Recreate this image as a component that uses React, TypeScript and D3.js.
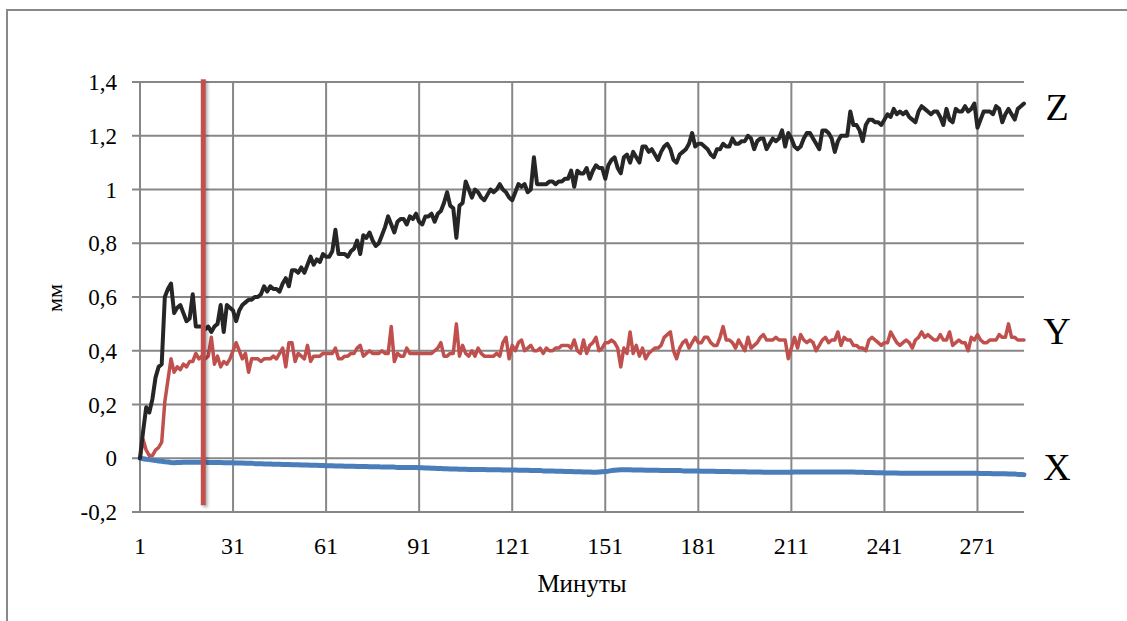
import React from 'react';
import * as d3 from 'd3';

// Minutes 1..286, one reading per minute (mm)
const zValues = [
  0.00, 0.10, 0.19, 0.17, 0.22, 0.30, 0.34, 0.35, 0.60, 0.63,
  0.65, 0.54, 0.56, 0.57, 0.54, 0.51, 0.52, 0.61, 0.49, 0.49,
  0.49, 0.48, 0.49, 0.47, 0.49, 0.50, 0.57, 0.47, 0.57, 0.56,
  0.55, 0.51, 0.55, 0.57, 0.58, 0.59, 0.59, 0.60, 0.60, 0.61,
  0.64, 0.62, 0.64, 0.63, 0.63, 0.62, 0.65, 0.67, 0.64, 0.70,
  0.70, 0.69, 0.71, 0.69, 0.72, 0.75, 0.72, 0.74, 0.73, 0.76,
  0.75, 0.75, 0.77, 0.85, 0.76, 0.76, 0.76, 0.75, 0.77, 0.78,
  0.81, 0.76, 0.83, 0.82, 0.84, 0.81, 0.79, 0.80, 0.83, 0.86,
  0.90, 0.87, 0.84, 0.88, 0.89, 0.89, 0.87, 0.90, 0.89, 0.91,
  0.88, 0.87, 0.90, 0.90, 0.91, 0.88, 0.91, 0.92, 0.95, 0.99,
  0.94, 0.93, 0.82, 0.94, 0.95, 1.03, 1.00, 0.97, 1.00, 0.99,
  0.97, 0.96, 0.98, 1.00, 0.99, 1.00, 1.02, 1.00, 0.99, 0.97,
  0.96, 0.99, 1.02, 1.01, 1.02, 0.99, 1.00, 1.12, 1.02, 1.02,
  1.02, 1.02, 1.03, 1.03, 1.02, 1.03, 1.03, 1.04, 1.04, 1.07,
  1.01, 1.07, 1.06, 1.06, 1.08, 1.04, 1.07, 1.09, 1.08, 1.08,
  1.04, 1.09, 1.11, 1.12, 1.08, 1.06, 1.12, 1.13, 1.10, 1.14,
  1.12, 1.10, 1.16, 1.16, 1.14, 1.15, 1.13, 1.11, 1.14, 1.16,
  1.17, 1.15, 1.11, 1.10, 1.13, 1.14, 1.15, 1.17, 1.21, 1.16,
  1.17, 1.17, 1.16, 1.15, 1.13, 1.12, 1.15, 1.15, 1.17, 1.16,
  1.16, 1.19, 1.17, 1.17, 1.18, 1.18, 1.20, 1.19, 1.15, 1.18,
  1.19, 1.19, 1.15, 1.17, 1.19, 1.18, 1.19, 1.22, 1.16, 1.21,
  1.19, 1.16, 1.15, 1.16, 1.19, 1.21, 1.21, 1.19, 1.17, 1.15,
  1.22, 1.22, 1.21, 1.19, 1.14, 1.18, 1.20, 1.20, 1.20, 1.29,
  1.24, 1.24, 1.22, 1.18, 1.24, 1.26, 1.26, 1.25, 1.25, 1.24,
  1.26, 1.28, 1.27, 1.30, 1.28, 1.29, 1.28, 1.29, 1.27, 1.26,
  1.25, 1.29, 1.31, 1.30, 1.29, 1.28, 1.29, 1.29, 1.27, 1.24,
  1.30, 1.26, 1.25, 1.30, 1.29, 1.29, 1.31, 1.29, 1.30, 1.32,
  1.23, 1.26, 1.29, 1.29, 1.29, 1.28, 1.31, 1.30, 1.25, 1.28,
  1.30, 1.28, 1.26, 1.30, 1.31, 1.32,
];

const yValues = [
  0.00, 0.07, 0.03, 0.01, 0.01, 0.03, 0.04, 0.06, 0.21, 0.29,
  0.37, 0.32, 0.34, 0.33, 0.35, 0.34, 0.36, 0.36, 0.39, 0.37,
  0.38, 0.37, 0.38, 0.45, 0.35, 0.38, 0.34, 0.36, 0.35, 0.37,
  0.40, 0.43, 0.40, 0.37, 0.39, 0.32, 0.37, 0.37, 0.37, 0.36,
  0.37, 0.37, 0.37, 0.38, 0.37, 0.39, 0.41, 0.34, 0.43, 0.43,
  0.36, 0.39, 0.38, 0.37, 0.42, 0.36, 0.38, 0.38, 0.38, 0.39,
  0.39, 0.39, 0.39, 0.41, 0.37, 0.37, 0.38, 0.38, 0.39, 0.39,
  0.41, 0.42, 0.38, 0.39, 0.40, 0.39, 0.39, 0.39, 0.40, 0.39,
  0.39, 0.49, 0.36, 0.39, 0.38, 0.38, 0.41, 0.39, 0.39, 0.39,
  0.39, 0.39, 0.39, 0.39, 0.39, 0.40, 0.41, 0.43, 0.38, 0.38,
  0.39, 0.39, 0.50, 0.38, 0.42, 0.39, 0.38, 0.40, 0.38, 0.41,
  0.39, 0.38, 0.38, 0.38, 0.38, 0.39, 0.38, 0.43, 0.45, 0.37,
  0.42, 0.40, 0.43, 0.44, 0.40, 0.41, 0.42, 0.40, 0.40, 0.41,
  0.39, 0.41, 0.40, 0.40, 0.41, 0.41, 0.42, 0.42, 0.42, 0.41,
  0.44, 0.40, 0.39, 0.44, 0.39, 0.42, 0.43, 0.45, 0.40, 0.41,
  0.43, 0.43, 0.44, 0.43, 0.41, 0.34, 0.41, 0.39, 0.47, 0.39,
  0.42, 0.38, 0.41, 0.37, 0.39, 0.40, 0.41, 0.41, 0.42, 0.45,
  0.46, 0.47, 0.40, 0.37, 0.41, 0.43, 0.44, 0.41, 0.43, 0.45,
  0.43, 0.43, 0.45, 0.45, 0.43, 0.42, 0.42, 0.45, 0.49, 0.44,
  0.44, 0.43, 0.41, 0.44, 0.42, 0.40, 0.45, 0.41, 0.42, 0.43,
  0.45, 0.46, 0.44, 0.44, 0.44, 0.45, 0.44, 0.44, 0.44, 0.37,
  0.41, 0.45, 0.41, 0.46, 0.44, 0.43, 0.44, 0.43, 0.40, 0.42,
  0.44, 0.45, 0.43, 0.44, 0.44, 0.47, 0.42, 0.45, 0.44, 0.44,
  0.42, 0.42, 0.41, 0.41, 0.40, 0.44, 0.45, 0.44, 0.43, 0.42,
  0.43, 0.43, 0.47, 0.45, 0.43, 0.42, 0.43, 0.44, 0.43, 0.41,
  0.44, 0.45, 0.47, 0.45, 0.46, 0.45, 0.44, 0.44, 0.46, 0.44,
  0.44, 0.47, 0.42, 0.43, 0.44, 0.43, 0.43, 0.40, 0.45, 0.44,
  0.46, 0.44, 0.43, 0.43, 0.44, 0.44, 0.44, 0.46, 0.45, 0.45,
  0.50, 0.45, 0.45, 0.44, 0.44, 0.44,
];

const xValues = [
  0.000, -0.002, -0.004, -0.005, -0.007, -0.008, -0.010, -0.011, -0.013, -0.014,
  -0.016, -0.017, -0.016, -0.016, -0.015, -0.015, -0.015, -0.015, -0.015, -0.015,
  -0.015, -0.015, -0.016, -0.016, -0.016, -0.016, -0.016, -0.017, -0.017, -0.017,
  -0.017, -0.018, -0.018, -0.018, -0.019, -0.019, -0.019, -0.020, -0.020, -0.020,
  -0.021, -0.021, -0.021, -0.022, -0.022, -0.022, -0.023, -0.023, -0.023, -0.024,
  -0.024, -0.024, -0.025, -0.025, -0.025, -0.026, -0.026, -0.026, -0.027, -0.027,
  -0.028, -0.028, -0.028, -0.029, -0.029, -0.029, -0.030, -0.030, -0.030, -0.030,
  -0.031, -0.031, -0.031, -0.031, -0.032, -0.032, -0.032, -0.032, -0.033, -0.033,
  -0.033, -0.033, -0.033, -0.034, -0.034, -0.034, -0.034, -0.034, -0.034, -0.034,
  -0.035, -0.035, -0.036, -0.036, -0.037, -0.037, -0.038, -0.038, -0.039, -0.039,
  -0.040, -0.040, -0.040, -0.041, -0.041, -0.041, -0.042, -0.042, -0.042, -0.042,
  -0.042, -0.042, -0.043, -0.043, -0.043, -0.043, -0.043, -0.044, -0.044, -0.044,
  -0.044, -0.044, -0.045, -0.045, -0.045, -0.045, -0.046, -0.046, -0.046, -0.046,
  -0.047, -0.047, -0.047, -0.047, -0.048, -0.048, -0.048, -0.049, -0.049, -0.049,
  -0.050, -0.050, -0.050, -0.051, -0.051, -0.051, -0.052, -0.052, -0.051, -0.050,
  -0.049, -0.048, -0.046, -0.045, -0.044, -0.043, -0.043, -0.043, -0.043, -0.044,
  -0.044, -0.044, -0.044, -0.045, -0.045, -0.045, -0.045, -0.045, -0.046, -0.046,
  -0.046, -0.046, -0.046, -0.046, -0.046, -0.047, -0.047, -0.047, -0.047, -0.047,
  -0.047, -0.048, -0.048, -0.048, -0.048, -0.048, -0.049, -0.049, -0.049, -0.049,
  -0.049, -0.050, -0.050, -0.050, -0.050, -0.050, -0.051, -0.051, -0.051, -0.051,
  -0.051, -0.052, -0.052, -0.052, -0.052, -0.052, -0.052, -0.052, -0.052, -0.052,
  -0.052, -0.051, -0.051, -0.051, -0.051, -0.051, -0.051, -0.051, -0.051, -0.051,
  -0.051, -0.051, -0.051, -0.051, -0.051, -0.051, -0.051, -0.051, -0.051, -0.051,
  -0.051, -0.052, -0.052, -0.052, -0.053, -0.053, -0.053, -0.054, -0.054, -0.054,
  -0.055, -0.055, -0.055, -0.055, -0.055, -0.056, -0.056, -0.056, -0.056, -0.056,
  -0.056, -0.056, -0.056, -0.056, -0.056, -0.056, -0.056, -0.056, -0.056, -0.056,
  -0.056, -0.056, -0.056, -0.056, -0.056, -0.056, -0.056, -0.056, -0.056, -0.056,
  -0.056, -0.057, -0.057, -0.057, -0.057, -0.058, -0.058, -0.058, -0.058, -0.058,
  -0.059, -0.059, -0.059, -0.060, -0.060, -0.061,
];

const xTickLabels = [1, 31, 61, 91, 121, 151, 181, 211, 241, 271];
const yTickLabels = [-0.2, 0, 0.2, 0.4, 0.6, 0.8, 1, 1.2, 1.4];
const markerMinute = 21.4;
const markerSpan = [-0.175, 1.41];

const series = [
  { name: 'X', values: xValues, color: '#4a7ebb', width: 5, labelDy: 5 },
  { name: 'Y', values: yValues, color: '#c0504d', width: 3.5, labelDy: 4 },
  { name: 'Z', values: zValues, color: '#262626', width: 4, labelDy: 16 },
];

const W = 1127;
const H = 621;
const FONT = '"Liberation Serif", "Times New Roman", serif';

const App: React.FC = () => {
  const xScale = d3.scaleLinear().domain([1, zValues.length]).range([140, 1024]);
  const yScale = d3.scaleLinear().domain([-0.2, 1.4]).range([512, 82]);
  const [x0, x1] = xScale.range();
  const [yBottom, yTop] = yScale.range();

  const line = d3
    .line<number>()
    .x((_, i) => xScale(i + 1))
    .y((d) => yScale(d));

  const fmt = (v: number) => String(v).replace('.', ',');
  const markerX = xScale(markerMinute);
  const markerTop = yScale(markerSpan[1]);
  const markerBottom = yScale(markerSpan[0]);

  return (
    <svg
      width={W}
      height={H}
      style={{ position: 'absolute', left: 0, top: 0, background: '#fff' }}
      fontFamily={FONT}
    >
      <defs>
        <filter id="shadow" filterUnits="userSpaceOnUse" x={0} y={0} width={W} height={H}>
          <feDropShadow dx="2" dy="2" stdDeviation="1.5" floodColor="#000" floodOpacity="0.3" />
        </filter>
      </defs>

      {/* chart frame, runs off the page on the right and bottom */}
      <rect x={7} y={10} width={W + 20} height={H + 20} fill="#fff" stroke="#898989" strokeWidth={2} />

      {/* horizontal gridlines + y ticks */}
      {yTickLabels.map((v) => (
        <g key={v}>
          <line x1={x0 - 8} x2={x1} y1={yScale(v)} y2={yScale(v)} stroke="#878787" strokeWidth={2} />
          <text x={117} y={yScale(v)} dy="0.35em" textAnchor="end" fontSize={23} fill="#000">
            {fmt(v)}
          </text>
        </g>
      ))}

      {/* vertical gridlines + x ticks */}
      {xTickLabels.map((m) => (
        <g key={m}>
          <line x1={xScale(m)} x2={xScale(m)} y1={yTop} y2={yBottom} stroke="#878787" strokeWidth={2} />
          <text x={xScale(m)} y={554} textAnchor="middle" fontSize={24} fill="#000">
            {m}
          </text>
        </g>
      ))}

      {series.map((s) => (
        <path
          key={s.name}
          d={line(s.values) ?? ''}
          fill="none"
          stroke={s.color}
          strokeWidth={s.width}
          strokeLinejoin="round"
          strokeLinecap="round"
        />
      ))}

      {/* series labels */}
      {series.map((s) => (
        <text
          key={s.name}
          x={1057}
          y={yScale(s.values[s.values.length - 1]) + s.labelDy}
          textAnchor="middle"
          fontSize={38}
          fill="#000"
        >
          {s.name}
        </text>
      ))}

      {/* vertical marker */}
      <rect
        x={markerX - 2.5}
        y={markerTop}
        width={5}
        height={markerBottom - markerTop}
        fill="#c0504d"
        filter="url(#shadow)"
      />

      <text x={582} y={592} textAnchor="middle" fontSize={25} fill="#000">
        Минуты
      </text>
      <text
        transform={`translate(62, 298) rotate(-90)`}
        textAnchor="middle"
        fontSize={22}
        fill="#000"
      >
        мм
      </text>
    </svg>
  );
};

export default App;
